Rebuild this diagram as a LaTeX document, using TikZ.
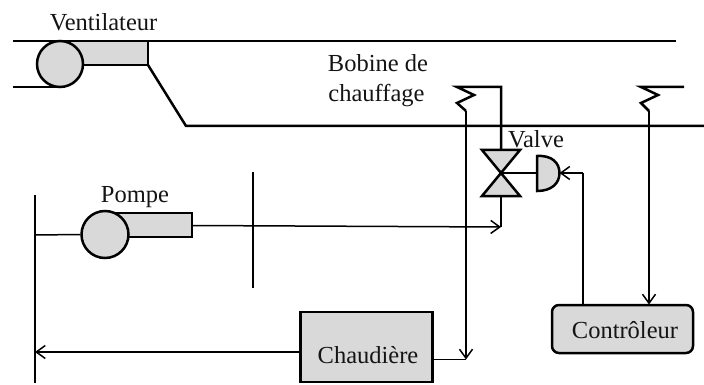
\documentclass[tikz,border=0pt]{standalone}
\usepackage{fontspec}
\setmainfont{Liberation Serif}
\usetikzlibrary{arrows.meta}
\definecolor{fillgray}{RGB}{217,217,217}
\tikzset{
  x=1pt,y=-1pt,
  thick line/.style={line width=2.5pt,line join=miter},
  thin line/.style={line width=1.5pt},
  part/.style={draw=black,fill=fillgray,line width=2.5pt},
  open arrow/.style={-{Straight Barb[length=9pt,width=13pt,line width=1.5pt]}},
  label/.style={font=\fontsize{24.5}{29}\selectfont,anchor=base,inner sep=0pt,text=black!92},
}
\begin{document}
\begin{tikzpicture}
\useasboundingbox (0,0) rectangle (704,385);
% duct
\coordinate (ductTL) at (13,41); \coordinate (ductTR) at (676,41);
\coordinate (ductBL) at (13,87); \coordinate (fanB) at (60,87);
\coordinate (fanOutT) at (148,41); \coordinate (fanOutB) at (148,65);
\coordinate (ductKnee) at (186,126); \coordinate (ductBR) at (704,126);
\draw[thick line] (ductTL) -- (ductTR);
\draw[thick line] (ductBL) -- (fanB);
\draw[part] (60,41) rectangle (fanOutB);
\draw[thick line] (fanOutB) -- (ductKnee) -- (ductBR);
\node[part,circle,minimum size=46pt,inner sep=0pt] (fan) at (60,64) {};
% pump
\draw[part] (105,213) rectangle (192,237);
\coordinate (pumpOut) at (192,225.5);
\node[part,circle,minimum size=47pt,inner sep=0pt] (pump) at (105,234.5) {};
% bars
\coordinate (barLT) at (35,195); \coordinate (barLB) at (35,383);
\coordinate (barLP) at (35,235); \coordinate (barLA) at (35,352);
\coordinate (barRT) at (253,172); \coordinate (barRB) at (253,288);
\draw[line width=2.8pt] (barLT) -- (barLB);
\draw[line width=2.8pt] (barRT) -- (barRB);
\draw[thin line] (barLP) -- (pump.west);
% boxes
\node[part,rectangle,minimum width=132pt,minimum height=70pt,inner sep=0pt] (boiler) at (366.5,347) {};
\node[part,rectangle,rounded corners=7pt,minimum width=141pt,minimum height=48pt,inner sep=0pt] (ctrl) at (622.5,329) {};
% valve
\coordinate (vc) at (501,173);
\draw[part,line join=miter] (482,150) -- (520,150) -- (vc) -- (520,196) -- (482,196) -- (vc) -- cycle;
\coordinate (vt) at (501,150); \coordinate (vb) at (501,196);
\coordinate (vIn) at (501,227);
% actuator
\coordinate (actL) at (537,173); \coordinate (actR) at (559.5,173);
\draw[part] (537,156) .. controls (552,155) and (559.5,163) .. (actR) .. controls (559.5,183) and (552,191) .. (537,191) -- cycle;
\draw[line width=2.8pt] (vc) -- (actL);
% heating coil feed
\coordinate (z1a) at (501,87); \coordinate (z1b) at (457,87); \coordinate (z1c) at (474,95);
\coordinate (z1d) at (457,103); \coordinate (z1e) at (466,111); \coordinate (z1f) at (466,359.5);
\draw[thick line] (vt) -- (z1a) -- (z1b) -- (z1c) -- (z1d) -- (z1e);
\draw[thin line,open arrow] (z1e) -- (z1f);
\draw[thick line] (vb) -- (vIn);
% pipes
\draw[thin line,open arrow] (pumpOut) -- (vIn);
\draw[thin line,open arrow] (boiler.west |- barLA) -- (barLA);
\draw[thin line] (boiler.east |- z1f) -- (z1f);
% sensor
\coordinate (z2a) at (684,87); \coordinate (z2b) at (641,87); \coordinate (z2c) at (658,95);
\coordinate (z2d) at (641,103); \coordinate (z2e) at (649,111); \coordinate (z2f) at (649,304.5);
\draw[thick line] (z2a) -- (z2b) -- (z2c) -- (z2d) -- (z2e);
\draw[line width=1.9pt,open arrow] (z2e) -- (z2f);
% control signal
\coordinate (sigT) at (583,173);
\draw[line width=2.7pt] (ctrl.north -| sigT) -- (sigT);
\draw[line width=1.9pt,open arrow] (sigT) -- (actR);
% labels
\node[label] (tVent) at (103.5,31) {Ventilateur};
\node[label] (tPompe) at (135,202) {Pompe};
\node[label] (tBob1) at (378,72) {Bobine de};
\node[label] (tBob2) at (376.5,101.5) {chauffage};
\node[label] (tValve) at (536,148) {Valve};
\node[label] (tChaud) at (368,363) {Chaudière};
\node[label] (tCtrl) at (625,338) {Contrôleur};
\end{tikzpicture}
\end{document}
